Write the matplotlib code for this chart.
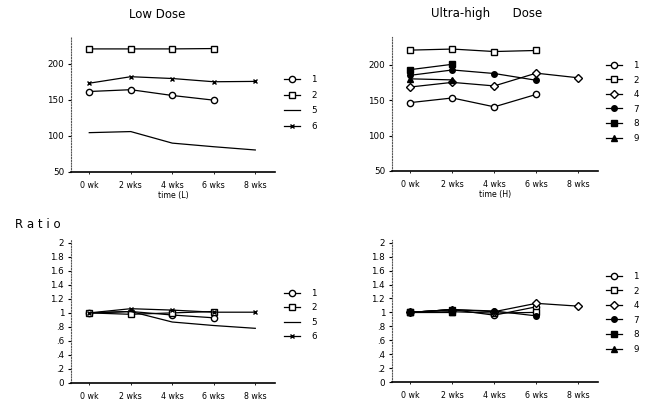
import numpy as np
import matplotlib
matplotlib.use("Agg")
import matplotlib.pyplot as plt

W, H = 653, 401

weeks = [0, 2, 4, 6, 8]
week_labels = ["0 wk", "2 wks", "4 wks", "6 wks", "8 wks"]

# Low dose, absolute values
low_ids = ["1", "2", "5", "6"]
low_vals = {
    "1": [161.5, 164, 156, 149.5],
    "2": [220.5, 220.5, 220.5, 221],
    "5": [104.5, 106, 90, 85, 80.5],
    "6": [173, 182, 179.5, 175, 175.5],
}

# Ultra-high dose, absolute values
high_ids = ["1", "2", "4", "7", "8", "9"]
high_vals = {
    "1": [146.5, 153, 140.5, 158],
    "2": [220.5, 222, 218.5, 220],
    "4": [168.5, 175, 170, 188, 181.5],
    "7": [185, 192.5, 187.5, 178],
    "8": [193, 200.5],
    "9": [180, 178.5],
}

# Ratio to week 0
low_ratio = {
    "1": [1.0, 1.02, 0.97, 0.93],
    "2": [1.0, 0.98, 1.0, 1.02],
    "5": [1.0, 1.02, 0.87, 0.82, 0.78],
    "6": [1.0, 1.06, 1.04, 1.01, 1.01],
}
high_ratio = {
    "1": [1.0, 1.04, 0.96, 1.08],
    "2": [1.0, 1.01, 0.99, 1.0],
    "4": [1.0, 1.04, 1.01, 1.13, 1.09],
    "7": [1.0, 1.04, 1.02, 0.95],
    "8": [1.0, 1.04],
    "9": [1.0, 1.0],
}

# marker style per subject
STYLE = {
    "1": dict(marker="o", mfc="white", ms=4.5),
    "2": dict(marker="s", mfc="white", ms=4),
    "4": dict(marker="D", mfc="white", ms=4),
    "5": dict(marker=None),
    "6": dict(marker="x", ms=3.5, mew=1),
    "7": dict(marker="o", mfc="black", ms=4),
    "8": dict(marker="s", mfc="black", ms=4.5),
    "9": dict(marker="^", mfc="black", ms=4.5),
}


def px_axes(fig, x0, x1, y0, y1):
    # pixel box (top-left origin) -> figure fraction
    return fig.add_axes([x0 / W, 1 - y1 / H, (x1 - x0) / W, (y1 - y0) / H])


def draw_panel(ax, ids, vals, ylim, yticks, yticklabels, leg_xy, leg_space):
    for sid in ids:
        y = vals[sid]
        st = STYLE[sid]
        ax.plot(weeks[:len(y)], y, color="black", lw=0.9, mec="black",
                label=sid, clip_on=False, **st)
    ax.set_xlim(-0.88, 8.95)
    ax.set_ylim(*ylim)
    ax.set_xticks(weeks)
    ax.set_xticklabels(week_labels)
    ax.set_yticks(yticks)
    ax.set_yticklabels(yticklabels)
    for s in ["top", "right"]:
        ax.spines[s].set_visible(False)
    ax.spines["left"].set_linestyle((0, (1, 1.5)))
    ax.spines["left"].set_color("#555555")
    ax.spines["left"].set_linewidth(0.8)
    ax.spines["bottom"].set_linewidth(1.2)
    ax.tick_params(axis="y", length=2, width=0.8, pad=3, labelsize=6.3)
    ax.tick_params(axis="x", length=1.5, width=0.6, pad=5, labelsize=5.7)
    ax.legend(loc="upper left", bbox_to_anchor=(leg_xy[0] / W, 1 - leg_xy[1] / H),
              bbox_transform=plt.gcf().transFigure, frameon=False, fontsize=6.3,
              handlelength=1.8, handletextpad=1.3, labelspacing=leg_space,
              borderpad=0, borderaxespad=0)


fig = plt.figure(figsize=(W / 100, H / 100), dpi=100)
fig.patch.set_facecolor("white")

abs_ticks = [50, 100, 150, 200]
ratio_ticks = np.arange(0, 2.01, 0.2)
ratio_labels = ["0", ".2", ".4", ".6", ".8", "1", "1.2", "1.4", "1.6", "1.8", "2"]

ax1 = px_axes(fig, 71, 275, 37, 172)
draw_panel(ax1, low_ids, low_vals, (50, 237), abs_ticks, [str(t) for t in abs_ticks],
           (284, 75), 0.75)
ax1.set_xlabel("time (L)", fontsize=5.7, labelpad=1)
fig.text(157 / W, 1 - 14 / H, "Low Dose", ha="center", va="center", fontsize=8.5)

ax2 = px_axes(fig, 392, 598, 37, 171)
draw_panel(ax2, high_ids, high_vals, (50, 239), abs_ticks, [str(t) for t in abs_ticks],
           (606, 61), 0.63)
ax2.set_xlabel("time (H)", fontsize=5.7, labelpad=1)
fig.text(487 / W, 1 - 13 / H, "Ultra-high      Dose", ha="center", va="center", fontsize=8.5)

ax3 = px_axes(fig, 71, 275, 240, 383)
draw_panel(ax3, low_ids, low_ratio, (0, 2.04), ratio_ticks, ratio_labels,
           (284, 289), 0.62)
fig.text(15 / W, 1 - 225 / H, "R a t i o", ha="left", va="center", fontsize=8.5)

ax4 = px_axes(fig, 392, 598, 240, 382)
draw_panel(ax4, high_ids, high_ratio, (0, 2.04), ratio_ticks, ratio_labels,
           (606, 272), 0.63)

fig.savefig("out.png", dpi=100, facecolor="white")
